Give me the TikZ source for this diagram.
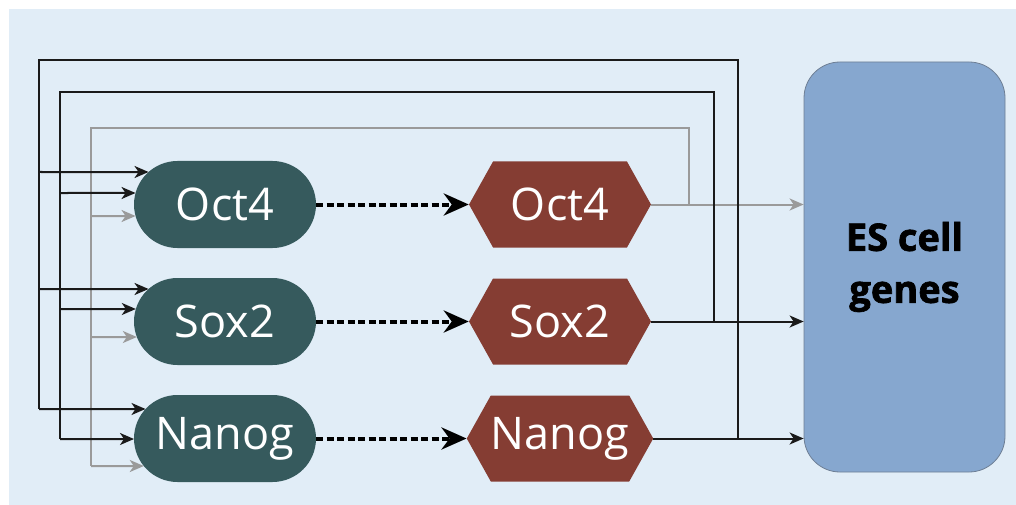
\documentclass[tikz,border=0pt]{standalone}
\usepackage{fontspec}
\setmainfont{Open Sans}
\newfontfamily\heavyfont[FakeBold=1.8]{Open Sans}
\usetikzlibrary{arrows.meta,shapes.misc,shapes.symbols,intersections}
\definecolor{bgblue}{HTML}{E1EDF7}
\definecolor{genegreen}{HTML}{365A5D}
\definecolor{protred}{HTML}{853D33}
\definecolor{esfill}{HTML}{86A7CF}
\definecolor{esedge}{HTML}{6E7F95}
\definecolor{darkline}{HTML}{1A1A1A}
\definecolor{lightline}{HTML}{9A9A9A}
\begin{document}
\begin{tikzpicture}[x=1pt,y=-1pt,
  gene/.style={rounded rectangle, fill=genegreen, minimum width=182pt,
    minimum height=87pt, inner sep=0pt, text=white,
    font=\fontsize{45}{54}\selectfont},
  prot/.style={signal, signal to=east and west, signal pointer angle=121.6,
    fill=protred, minimum width=182pt, minimum height=86pt, inner sep=0pt,
    text=white, font=\fontsize{45}{54}\selectfont},
  esbox/.style={rectangle, rounded corners=36pt, fill=esfill, draw=esedge,
    line width=0.8pt, minimum width=201pt, minimum height=410pt,
    align=center, font=\heavyfont\bfseries\fontsize{38}{52}\selectfont},
  bline/.style={draw=darkline, line width=2pt},
  gline/.style={draw=lightline, line width=2pt},
  tip/.style={-{Stealth[length=14pt,width=12pt,inset=4pt]}},
  transl/.style={draw=black, line width=4pt, dash pattern=on 7pt off 3.5pt,
    -{Stealth[length=25pt,width=22pt,inset=8pt]}}
]
\useasboundingbox (0,0) rectangle (1016,505);
\fill[bgblue] (9,9) rectangle (1016,505);

% genes (left) and proteins (middle)
\node[gene, name path=gO] (gO) at (225,204.5) {Oct4};
\node[gene, name path=gS] (gS) at (225,321.5) {Sox2};
\node[gene, name path=gN] (gN) at (225,438.5) {Nanog};
\node[prot] (pO) at (560,204.5) {Oct4};
\node[prot] (pS) at (560,321.5) {Sox2};
\node[prot] (pN) at (560,438.5) {Nanog};
\node[esbox] (es) at (904.5,267) {ES cell\\genes};

% translation
\draw[transl] (gO.east) -- (pO.west);
\draw[transl] (gS.east) -- (pS.west);
\draw[transl] (gN.east) -- (pN.west);

% feedback loops: corners and bottom ends
\coordinate (gR) at (689,204.5);
\coordinate (gT) at (91,128);
\coordinate (gB) at (91,466);
\coordinate (mR) at (714,321.5);
\coordinate (mT) at (60,92);
\coordinate (mB) at (60,439);
\coordinate (oR) at (738,438.5);
\coordinate (oT) at (39,60);
\coordinate (oB) at (39,409);

% Oct4 output and loop (grey)
\draw[gline, tip] (pO.east) -- (es.west |- pO.east);
\draw[gline] (gR) |- (gT) -- (gB);

% Sox2 and Nanog outputs and loops
\draw[bline] (mR) |- (mT) -- (mB);
\draw[bline] (oR) |- (oT) -- (oB);
\draw[bline, tip] (pS.east) -- (es.west |- pS.east);
\draw[bline, tip] (pN.east) -- (es.west |- pN.east);

% inputs into each gene
\foreach \tx/\ty/\tgt/\sty in {
    39/172/gO/bline, 60/193/gO/bline, 91/216/gO/gline,
    39/289/gS/bline, 60/309/gS/bline, 91/337/gS/gline,
    39/409/gN/bline, 60/439/gN/bline, 91/466/gN/gline} {
  \coordinate (tap) at (\tx,\ty);
  \path[name path=ray] (tap) -- ++(200,0);
  \draw[\sty, tip, name intersections={of=ray and \tgt, by=hit}]
    (tap) -- (hit);
}
\end{tikzpicture}
\end{document}
